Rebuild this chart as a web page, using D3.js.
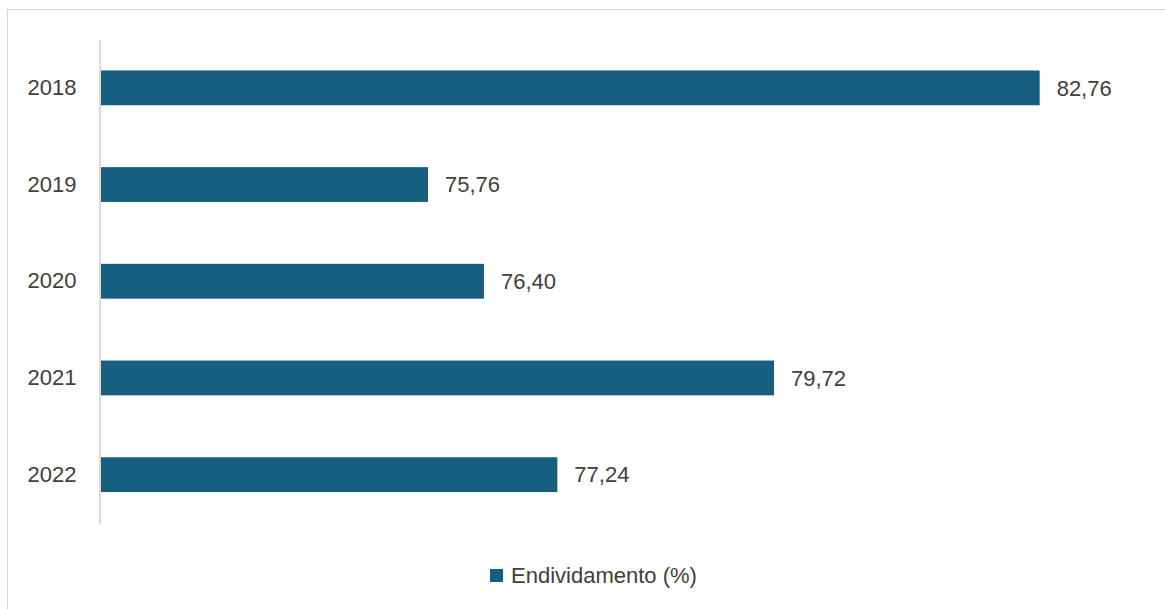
<!DOCTYPE html>
<html>
<head>
<meta charset="utf-8">
<script src="https://cdn.jsdelivr.net/npm/d3@7"></script>
<style>
  body { margin: 0; background: #fff; }
  svg { display: block; font-family: "Liberation Sans", Arial, sans-serif; }
</style>
</head>
<body>
<svg id="drawing_region"></svg>
<script>
// data
const years = ['2018', '2019', '2020', '2021', '2022'];
const values = [82.76, 75.76, 76.40, 79.72, 77.24];
const seriesName = 'Endividamento (%)';
const xDomain = [72, 84];

const width = 1165, height = 609;
const barColor = '#175f80';
const textColor = '#404040';
const fontSize = '22px';

const svg = d3.select('#drawing_region')
    .attr('width', width)
    .attr('height', height);

// outer chart frame
svg.append('rect')
    .attr('x', 7.5).attr('y', 9.5)
    .attr('width', width + 10).attr('height', height + 10)
    .attr('fill', 'none')
    .attr('stroke', '#d9d9d9')
    .attr('stroke-width', 1);

const xscale = d3.scaleLinear()
    .domain(xDomain)
    .range([99.5, 1148]);

const yscale = d3.scaleBand()
    .domain(years)
    .range([39.5, 523])
    .paddingInner(0.64)
    .paddingOuter(0.32);

const data = years.map((y, i) => ({ year: y, value: values[i] }));

// bars
svg.append('g').selectAll('rect')
    .data(data)
    .join('rect')
    .attr('x', xscale(xDomain[0]))
    .attr('y', d => yscale(d.year))
    .attr('width', d => xscale(d.value) - xscale(xDomain[0]))
    .attr('height', yscale.bandwidth())
    .attr('fill', barColor);

// y axis
const yaxis = d3.axisLeft(yscale).tickSize(0).tickPadding(23);
const yaxis_group = svg.append('g')
    .attr('transform', `translate(${xscale(xDomain[0])},0)`)
    .call(yaxis);
yaxis_group.select('.domain').attr('stroke', '#d9d9d9').attr('stroke-width', 2);
yaxis_group.selectAll('text')
    .attr('fill', textColor)
    .attr('font-size', fontSize)
    .attr('font-family', '"Liberation Sans", Arial, sans-serif');

// value labels
const fmt = v => v.toFixed(2).replace('.', ',');
svg.append('g').selectAll('text')
    .data(data)
    .join('text')
    .attr('x', d => xscale(d.value) + 17)
    .attr('y', d => yscale(d.year) + yscale.bandwidth() / 2)
    .attr('dy', '0.35em')
    .attr('fill', textColor)
    .attr('font-size', fontSize)
    .text(d => fmt(d.value));

// legend
const legend = svg.append('g').attr('transform', 'translate(490,569)');
legend.append('rect')
    .attr('width', 13).attr('height', 13)
    .attr('fill', barColor);
legend.append('text')
    .attr('x', 21).attr('y', 6.5)
    .attr('dy', '0.35em')
    .attr('fill', textColor)
    .attr('font-size', fontSize)
    .text(seriesName);
</script>
</body>
</html>
